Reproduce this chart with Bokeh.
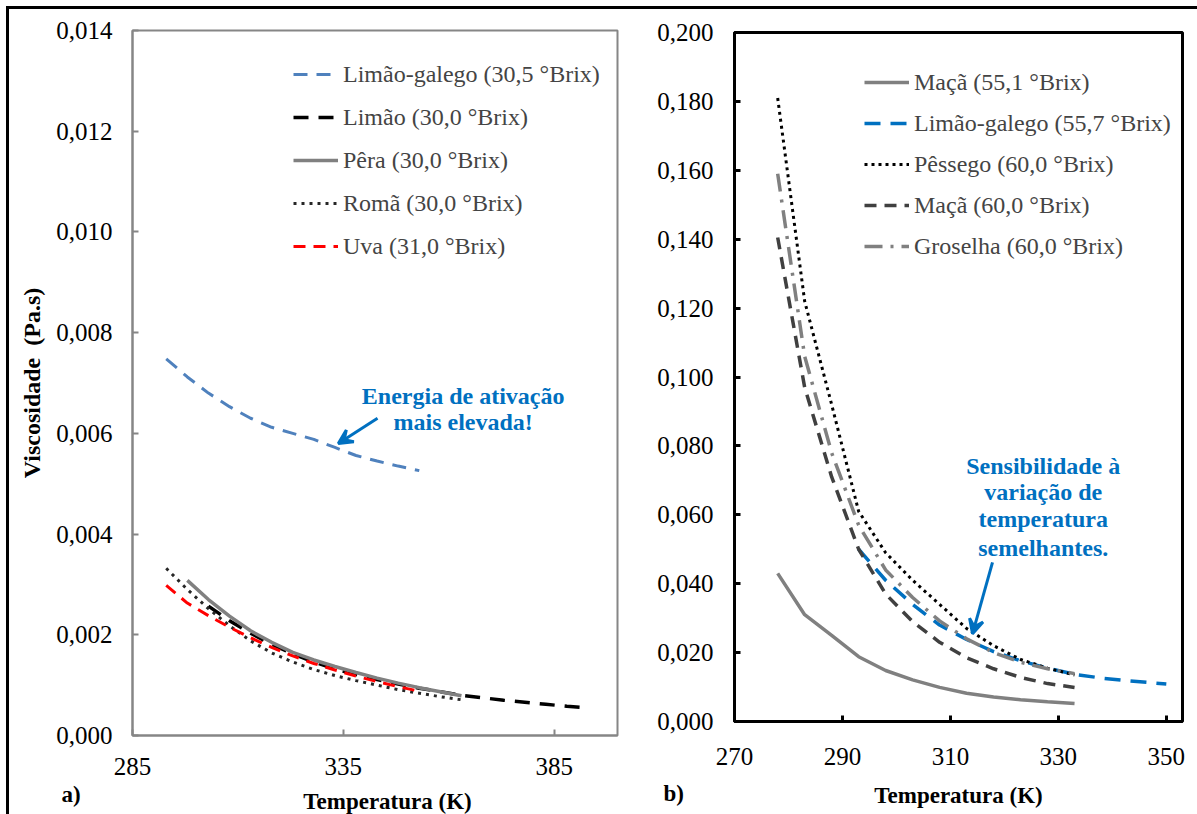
from math import pi
from bokeh.plotting import figure
from bokeh.layouts import row, column
from bokeh.models import (Range1d, FixedTicker, Label, Arrow, VeeHead, Legend, LegendItem)
from bokeh.embed import file_html
from bokeh.resources import INLINE

FONT = "Liberation Serif"
ANN = "#0070C0"

# ---------------- data: panel a) (30-31 °Brix) ----------------
a_T_galego = [293, 298, 303, 308, 313, 318, 323, 328, 333, 338, 343, 348, 353]
a_v_galego = [0.00748, 0.00712, 0.00680, 0.00653, 0.00630, 0.00612, 0.00600, 0.00588,
              0.00572, 0.00556, 0.00545, 0.00535, 0.00526]
a_T_limao = [303, 308, 313, 318, 323, 328, 333, 338, 343, 348, 353, 358, 363, 368, 373,
             378, 383, 388, 393]
a_v_limao = [0.00257, 0.00228, 0.00203, 0.00181, 0.00162, 0.00146, 0.00132, 0.00121,
             0.00111, 0.00102, 0.00094, 0.00087, 0.00080, 0.00075, 0.00070, 0.00066,
             0.00062, 0.00058, 0.00055]
a_T_pera = [298, 303, 308, 313, 318, 323, 328, 333, 338, 343, 348, 353, 358, 363]
a_v_pera = [0.00308, 0.00270, 0.00237, 0.00208, 0.00185, 0.00165, 0.00150, 0.00137,
            0.00125, 0.00114, 0.00104, 0.00095, 0.00087, 0.00079]
a_T_roma = [293, 298, 303, 308, 313, 318, 323, 328, 333, 338, 343, 348, 353, 358, 363]
a_v_roma = [0.00332, 0.00290, 0.00252, 0.00218, 0.00188, 0.00164, 0.00146, 0.00131,
            0.00119, 0.00109, 0.00100, 0.00091, 0.00084, 0.00077, 0.00071]
a_T_uva = [293, 298, 303, 308, 313, 318, 323, 328, 333, 338, 343, 348, 353]
a_v_uva = [0.00298, 0.00263, 0.00238, 0.00215, 0.00194, 0.00175, 0.00158, 0.00143,
           0.00130, 0.00118, 0.00107, 0.00097, 0.00088]

a_xticks = [285, 335, 385]
a_yticks = [0.0, 0.002, 0.004, 0.006, 0.008, 0.010, 0.012, 0.014]
a_ylabels = ["0,000", "0,002", "0,004", "0,006", "0,008", "0,010", "0,012", "0,014"]

# ---------------- data: panel b) (55-60 °Brix) ----------------
b_T = [278, 283, 288, 293, 298, 303, 308, 313, 318, 323, 328, 333]
b_v_maca55 = [0.043, 0.031, 0.025, 0.0188, 0.0148, 0.0121, 0.0099, 0.0082, 0.0071,
              0.0063, 0.0057, 0.0052]
b_v_pessego = [0.181, 0.122, 0.092, 0.061, 0.049, 0.041, 0.034, 0.027, 0.022, 0.018,
               0.0155, 0.0135]
b_v_maca60 = [0.1405, 0.097, 0.071, 0.050, 0.037, 0.029, 0.023, 0.0185, 0.0153, 0.0128,
              0.0110, 0.0099]
b_v_groselha = [0.159, 0.106, 0.078, 0.057, 0.044, 0.036, 0.0292, 0.024, 0.020, 0.0172,
                0.0153, 0.0139]
b_T_galego = [293, 298, 303, 308, 313, 318, 323, 328, 333, 338, 343, 350]
b_v_galego = [0.050, 0.041, 0.034, 0.028, 0.0238, 0.0203, 0.0176, 0.0155, 0.0137,
              0.0126, 0.0118, 0.0109]

b_xticks = [270, 290, 310, 330, 350]
b_yticks = [0.0, 0.02, 0.04, 0.06, 0.08, 0.10, 0.12, 0.14, 0.16, 0.18, 0.20]
b_ylabels = ["0,000", "0,020", "0,040", "0,060", "0,080", "0,100", "0,120", "0,140",
             "0,160", "0,180", "0,200"]


def style_axes(p, color, width, xstand, ystand):
    for ax in (p.xaxis[0], p.yaxis[0]):
        ax.axis_line_color = color
        ax.axis_line_width = width
        ax.major_tick_line_color = color
        ax.major_tick_line_width = width
        ax.major_tick_in = 6
        ax.major_tick_out = 0
        ax.minor_tick_line_color = None
        ax.major_label_text_font = FONT
        ax.major_label_text_font_size = "25px"
        ax.major_label_text_color = "black"
        ax.axis_label_text_font = FONT
        ax.axis_label_text_font_style = "bold"
        ax.axis_label_text_color = "black"
    p.xaxis[0].major_label_standoff = xstand
    p.yaxis[0].major_label_standoff = ystand
    p.xgrid.grid_line_color = None
    p.ygrid.grid_line_color = None
    p.outline_line_color = color
    p.outline_line_width = width
    p.outline_line_alpha = 1.0
    p.background_fill_color = "white"
    p.border_fill_alpha = 0.0
    p.title.visible = False
    if hasattr(p, "frame_align"):
        p.frame_align = False


def make_legend(p, items, loc, spacing):
    leg = Legend(items=items, location=loc, padding=0, margin=0, spacing=spacing,
                 glyph_width=45, glyph_height=30, label_height=30, label_standoff=5,
                 label_text_font=FONT, label_text_font_size="24px",
                 border_line_alpha=0, background_fill_alpha=0)
    p.add_layout(leg)


def ann(p, x, y, text, size="24px", color=ANN, units="data", align="center"):
    p.add_layout(Label(x=x, y=y, x_units=units, y_units=units, text=text,
                       text_font=FONT, text_font_size=size, text_font_style="bold",
                       text_color=color, text_align=align, text_baseline="middle"))


def caption_strip(width, height):
    # text-only strip under a panel (holds the panel tag and the x-axis title)
    s = figure(width=width, height=height, output_backend="svg", toolbar_location=None,
               x_axis_location=None, y_axis_location=None,
               min_border_left=0, min_border_right=0, min_border_top=0,
               min_border_bottom=0)
    s.grid.visible = False
    s.outline_line_color = None
    s.background_fill_alpha = 0.0
    s.border_fill_alpha = 0.0
    s.title.visible = False
    if hasattr(s, "frame_align"):
        s.frame_align = False
    return s


# ---------------- figure a) ----------------
pa = figure(width=640, height=781, output_backend="svg", toolbar_location=None,
            x_range=Range1d(285, 400), y_range=Range1d(0, 0.014),
            min_border_left=132, min_border_right=23, min_border_top=30,
            min_border_bottom=46)
style_axes(pa, "#868686", 2, 22, 20)
pa.xaxis[0].ticker = FixedTicker(ticks=a_xticks)
pa.yaxis[0].ticker = FixedTicker(ticks=a_yticks)
pa.yaxis[0].major_label_overrides = dict(zip(a_yticks, a_ylabels))
pa.yaxis[0].axis_label = "Viscosidade\u00a0\u00a0(Pa.s)"
pa.yaxis[0].axis_label_text_font_size = "24px"
pa.yaxis[0].axis_label_standoff = 8

r1 = pa.line(a_T_galego, a_v_galego, line_color="#4F81BD", line_width=3, line_dash="14 9")
r2 = pa.line(a_T_limao, a_v_limao, line_color="black", line_width=3.5, line_dash="15 10")
r3 = pa.line(a_T_pera, a_v_pera, line_color="#808080", line_width=3.5)
r4 = pa.line(a_T_roma, a_v_roma, line_color="#262626", line_width=3, line_dash="3 5")
r5 = pa.line(a_T_uva, a_v_uva, line_color="#FF0000", line_width=3, line_dash="12 8")

make_legend(pa, [
    LegendItem(label="Limão-galego (30,5 °Brix)", renderers=[r1]),
    LegendItem(label="Limão (30,0 °Brix)", renderers=[r2]),
    LegendItem(label="Pêra (30,0 °Brix)", renderers=[r3]),
    LegendItem(label="Romã (30,0 °Brix)", renderers=[r4]),
    LegendItem(label="Uva (31,0 °Brix)", renderers=[r5]),
], (161, 474), 13)

ann(pa, 363.4, 0.00675, "Energia de ativação")
ann(pa, 363.4, 0.00622, "mais elevada!")
pa.add_layout(Arrow(x_start=343.1, y_start=0.00630, x_end=333.8, y_end=0.00580,
                    line_color=ANN, line_width=3,
                    end=VeeHead(size=14, line_color=ANN, fill_color=ANN, line_width=3)))

sa = caption_strip(640, 33)
ann(sa, 61, 20, "a)", size="23px", color="black", units="screen", align="left")
ann(sa, 387, 13, "Temperatura (K)", size="23px", color="black", units="screen")

# ---------------- figure b) ----------------
pb = figure(width=557, height=775, output_backend="svg", toolbar_location=None,
            x_range=Range1d(270, 353), y_range=Range1d(0, 0.2),
            min_border_left=94, min_border_right=15, min_border_top=32,
            min_border_bottom=54)
style_axes(pb, "black", 3, 26, 21)
pb.xaxis[0].ticker = FixedTicker(ticks=b_xticks)
pb.yaxis[0].ticker = FixedTicker(ticks=b_yticks)
pb.yaxis[0].major_label_overrides = dict(zip(b_yticks, b_ylabels))

s1 = pb.line(b_T, b_v_maca55, line_color="#808080", line_width=3.5)
s2 = pb.line(b_T_galego, b_v_galego, line_color="#0070C0", line_width=3.5, line_dash="16 10")
s3 = pb.line(b_T, b_v_pessego, line_color="black", line_width=3, line_dash="3 4")
s4 = pb.line(b_T, b_v_maca60, line_color="#404040", line_width=3.5, line_dash="12 8")
s5 = pb.line(b_T, b_v_groselha, line_color="#808080", line_width=3.5, line_dash="18 8 3 8")

make_legend(pb, [
    LegendItem(label="Maçã (55,1 °Brix)", renderers=[s1]),
    LegendItem(label="Limão-galego (55,7 °Brix)", renderers=[s2]),
    LegendItem(label="Pêssego (60,0 °Brix)", renderers=[s3]),
    LegendItem(label="Maçã (60,0 °Brix)", renderers=[s4]),
    LegendItem(label="Groselha (60,0 °Brix)", renderers=[s5]),
], (130, 460), 11)

for txt, yv in zip(["Sensibilidade à", "variação de", "temperatura", "semelhantes."],
                   [0.0743, 0.0665, 0.0589, 0.0505]):
    ann(pb, 327.2, yv, txt)
pb.add_layout(Arrow(x_start=317.8, y_start=0.0462, x_end=314.1, y_end=0.0255,
                    line_color=ANN, line_width=3,
                    end=VeeHead(size=14, line_color=ANN, fill_color=ANN, line_width=3)))

sb = caption_strip(557, 39)
ann(sb, 23, 21, "b)", size="23px", color="black", units="screen", align="left")
ann(sb, 318, 19, "Temperatura (K)", size="23px", color="black", units="screen")

# outer frame of the original figure (top and left edges)
layout = row(column(pa, sa), column(pb, sb), styles={
    "box-shadow": "inset 6px 6px 0 0 white, inset 9px 9px 0 0 black",
    "background-color": "white"})
open("out.html", "w").write(file_html(layout, INLINE))
